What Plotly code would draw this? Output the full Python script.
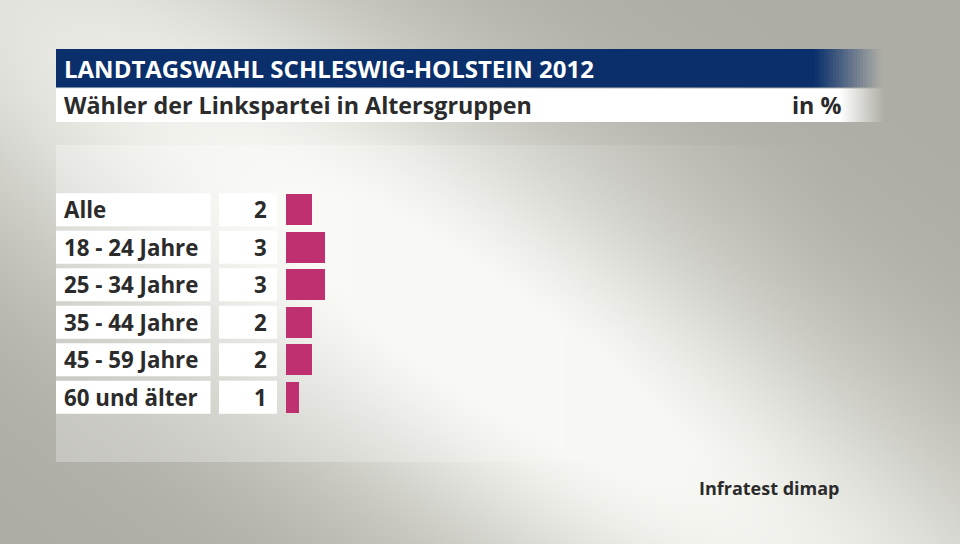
import numpy as np
import zlib, struct, base64
import plotly.graph_objects as go

# ---------------- data ----------------
categories = ["Alle", "18 - 24 Jahre", "25 - 34 Jahre", "35 - 44 Jahre", "45 - 59 Jahre", "60 und älter"]
values = [2, 3, 3, 2, 2, 1]
title = "LANDTAGSWAHL SCHLESWIG-HOLSTEIN 2012"
subtitle = "Wähler der Linkspartei in Altersgruppen"
unit = "in %"
source = "Infratest dimap"

W, H = 960, 544
FONT = "Open Sans"
BAR_COLOR = "#bf3070"
NAVY = "#0a2f6b"
TEXT = "#2b2b2b"


# ---------------- background image (diagonal light band + faint panel) ----------------
def make_bg(w=960, h=544):
    sx = W / w
    xs = (np.arange(w) + 0.5) * sx
    ys = (np.arange(h) + 0.5) * sx
    X, Y = np.meshgrid(xs, ys)
    dark = np.array([174, 173, 165], float)
    light = np.array([247, 248, 243], float)
    ang = np.deg2rad(35)
    dx, dy = X - 480, Y - 335
    along = dx * np.cos(ang) + dy * np.sin(ang)
    perp = -dx * np.sin(ang) + dy * np.cos(ang)
    t = np.exp(-(perp / 195) ** 2 - (along / 900) ** 2)
    t = np.clip(t * 1.08, 0, 1)
    img = dark[None, None, :] * (1 - t[..., None]) + light[None, None, :] * t[..., None]
    # faint panel behind the chart, fading out to the right
    inside = (X >= 56) & (Y >= 145) & (Y <= 462)
    fade = np.clip((840 - X) / 540, 0, 1)
    a = np.where(inside, 0.28 * fade ** 1.2, 0.0)
    img = img * (1 - a[..., None]) + 255 * a[..., None]
    img = np.clip(img, 0, 255).astype(np.uint8)
    raw = b"".join(b"\x00" + img[i].tobytes() for i in range(h))

    def chunk(tag, data):
        c = struct.pack(">I", len(data)) + tag + data
        return c + struct.pack(">I", zlib.crc32(tag + data) & 0xFFFFFFFF)

    png = b"\x89PNG\r\n\x1a\n"
    png += chunk(b"IHDR", struct.pack(">IIBBBBB", w, h, 8, 2, 0, 0, 0))
    png += chunk(b"IDAT", zlib.compress(raw, 9))
    png += chunk(b"IEND", b"")
    return "data:image/png;base64," + base64.b64encode(png).decode()


def px(x):
    return x / W


def py(y):
    return 1 - y / H


# ---------------- geometry ----------------
row_top = 191.05
pitch = 37.5
n = len(categories)
y_dom = [py(row_top + pitch * n), py(row_top)]
x_dom = [px(285.5), px(285.5 + 13 * 40)]

fig = go.Figure()
fig.add_trace(go.Bar(
    x=values, y=list(range(n)), orientation="h",
    marker=dict(color=BAR_COLOR, line=dict(width=0)),
    width=0.83, hoverinfo="skip", showlegend=False,
))

shapes = []
# title bar with fade
shapes.append(dict(type="rect", xref="paper", yref="paper", x0=px(56), x1=px(815),
                   y0=py(87.5), y1=py(49), fillcolor=NAVY, line=dict(width=0)))
steps = 22
for k in range(steps):
    a = 1 - (k + 0.5) / steps
    shapes.append(dict(type="rect", xref="paper", yref="paper",
                       x0=px(815 + k * 3), x1=px(815 + (k + 1) * 3),
                       y0=py(87.5), y1=py(49),
                       fillcolor=f"rgba(10,47,107,{a:.3f})", line=dict(width=0)))
# subtitle bar with fade
shapes.append(dict(type="rect", xref="paper", yref="paper", x0=px(56), x1=px(840),
                   y0=py(122), y1=py(88.5), fillcolor="white", line=dict(width=0)))
for k in range(steps):
    a = 1 - (k + 0.5) / steps
    shapes.append(dict(type="rect", xref="paper", yref="paper",
                       x0=px(840 + k * 2), x1=px(840 + (k + 1) * 2),
                       y0=py(122), y1=py(88.5),
                       fillcolor=f"rgba(255,255,255,{a:.3f})", line=dict(width=0)))

# row boxes
for i in range(n):
    shapes.append(dict(type="rect", xref="paper", yref="y", x0=px(56), x1=px(210.5),
                       y0=i - 0.44, y1=i + 0.44, fillcolor="white", line=dict(width=0), layer="below"))
    shapes.append(dict(type="rect", xref="paper", yref="y", x0=px(219), x1=px(277),
                       y0=i - 0.44, y1=i + 0.44, fillcolor="white", line=dict(width=0), layer="below"))

annotations = [
    dict(text=f"<b>{title}</b>", xref="paper", yref="paper", x=px(62), y=py(68.5),
         xanchor="left", yanchor="middle", showarrow=False,
         font=dict(family=FONT, size=24, color="white")),
    dict(text=f"<b>{subtitle}</b>", xref="paper", yref="paper", x=px(62), y=py(105),
         xanchor="left", yanchor="middle", showarrow=False,
         font=dict(family=FONT, size=23.3, color=TEXT)),
    dict(text=f"<b>{unit}</b>", xref="paper", yref="paper", x=px(843), y=py(105),
         xanchor="right", yanchor="middle", showarrow=False,
         font=dict(family=FONT, size=23.3, color=TEXT)),
    dict(text=f"<b>{source}</b>", xref="paper", yref="paper", x=px(842), y=py(488),
         xanchor="right", yanchor="middle", showarrow=False,
         font=dict(family=FONT, size=18, color=TEXT)),
]
for i, (c, v) in enumerate(zip(categories, values)):
    annotations.append(dict(text=f"<b>{c}</b>", xref="paper", yref="y", x=px(62), y=i,
                            xanchor="left", yanchor="middle", showarrow=False,
                            font=dict(family=FONT, size=22.3, color=TEXT)))
    annotations.append(dict(text=f"<b>{v}</b>", xref="paper", yref="y", x=px(269), y=i,
                            xanchor="right", yanchor="middle", showarrow=False,
                            font=dict(family=FONT, size=22.3, color=TEXT)))

fig.update_layout(
    width=W, height=H,
    margin=dict(l=0, r=0, t=0, b=0),
    paper_bgcolor="#c8c8c0",
    plot_bgcolor="rgba(0,0,0,0)",
    xaxis=dict(domain=x_dom, range=[0, 40], visible=False, fixedrange=True),
    yaxis=dict(domain=y_dom, range=[n - 0.5, -0.5], visible=False, fixedrange=True),
    shapes=shapes,
    annotations=annotations,
    images=[dict(source=make_bg(), xref="paper", yref="paper", x=0, y=1,
                 sizex=1, sizey=1, sizing="stretch", layer="below", xanchor="left", yanchor="top")],
    bargap=0,
)

fig.write_html("out.html", config={"displayModeBar": False})
